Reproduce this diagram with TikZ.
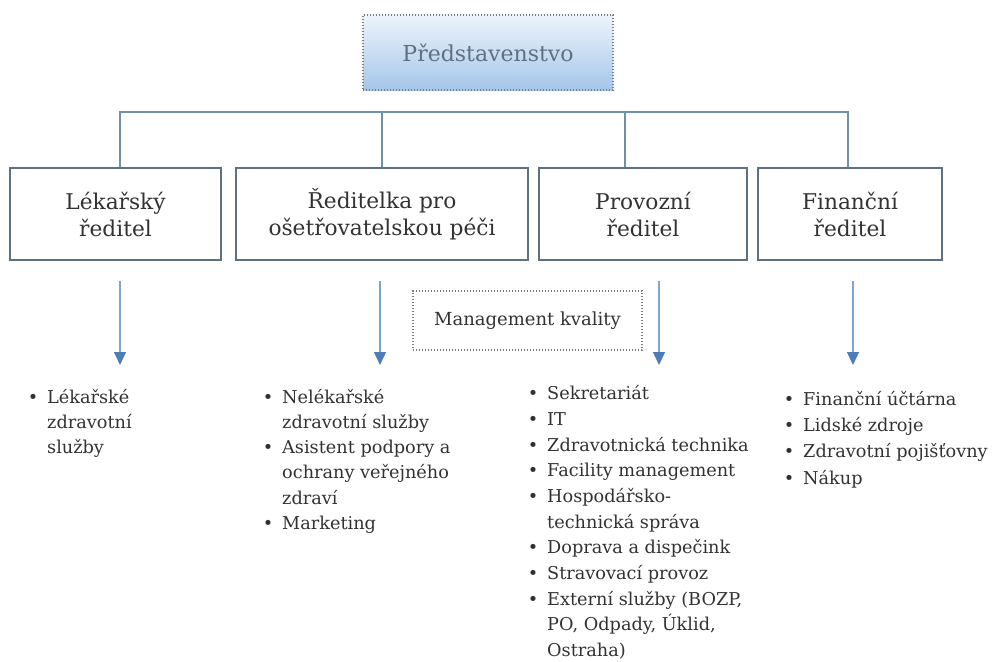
\documentclass[tikz,border=0pt]{standalone}
\usepackage{fontspec}
\setmainfont{DejaVu Serif}
\usepackage{xcolor}
\usetikzlibrary{positioning,arrows.meta}

\definecolor{boxline}{RGB}{95,112,128}
\definecolor{busblue}{RGB}{110,145,170}
\definecolor{arrline}{RGB}{125,165,205}
\definecolor{arrhead}{RGB}{75,125,185}
\definecolor{txt}{RGB}{50,50,50}
\definecolor{toptxt}{RGB}{95,112,130}
\definecolor{topfill}{RGB}{165,198,234}
\definecolor{dotline}{RGB}{120,125,130}

\newcommand\itm{\llap{\textbullet\hspace{9pt}}}

\begin{document}
\begin{tikzpicture}[x=1pt,y=-1pt,
  every node/.style={align=center, text=txt, inner sep=0pt},
  head/.style={draw=dotline, line width=1.3pt, dash pattern=on 1.3pt off 1.7pt, top color=topfill!20, bottom color=topfill, minimum width=250pt, minimum height=75pt, text=toptxt, font=\fontsize{22}{26}\selectfont},
  mgr/.style={draw=boxline, line width=1.3pt, minimum height=92pt, font=\fontsize{21.7}{27}\selectfont},
  qual/.style={draw=dotline, line width=1.3pt, dash pattern=on 1.3pt off 1.7pt, minimum width=229pt, minimum height=59pt, font=\fontsize{18}{22}\selectfont},
  items/.style={anchor=north west, align=left},
  busline/.style={draw=busblue, line width=1.2pt},
  arr/.style={draw=arrline, line width=1.3pt, -{Triangle[width=12pt,length=13pt,color=arrhead]}}
]
\clip (0,0) rectangle (992,661);

\node[head] (board) at (488,52.5) {Představenstvo};
\node[mgr, minimum width=211pt] (med) at (115.5,214) {Lékařský\\ředitel};
\node[mgr, minimum width=292pt] (nurse) at (382,214) {Ředitelka pro\\ošetřovatelskou péči};
\node[mgr, minimum width=208pt] (ops) at (643,214) {Provozní\\ředitel};
\node[mgr, minimum width=184pt] (fin) at (850,214) {Finanční\\ředitel};
\node[qual] (qm) at (527.5,320.5) {Management kvality};

\coordinate (bus) at (488,112);
\draw[busline] ([xshift=4.5pt]med.north) |- (bus) -| ([xshift=-2pt]fin.north);
\draw[busline] (nurse.north) -- (nurse.north |- bus);
\draw[busline] ([xshift=-18pt]ops.north) -- ([xshift=-18pt]ops.north |- bus);

\coordinate (t1) at (120,365);
\coordinate (t2) at (380,365);
\coordinate (t3) at (659,365);
\coordinate (t4) at (853,365);
\draw[arr] ([yshift=-20pt]med.south -| t1) -- (t1);
\draw[arr] ([yshift=-20pt]nurse.south -| t2) -- (t2);
\draw[arr] ([yshift=-20pt]ops.south -| t3) -- (t3);
\draw[arr] ([yshift=-20pt]fin.south -| t4) -- (t4);

\node[items, font=\fontsize{17.7}{25.2}\selectfont] (l1) at (47,385.4) {\strut\itm Lékařské\\zdravotní\\služby};
\node[items, font=\fontsize{17.7}{25.2}\selectfont] (l2) at (282,385.4) {\strut\itm Nelékařské\\zdravotní služby\\\itm Asistent podpory a\\ochrany veřejného\\zdraví\\\itm Marketing};
\node[items, font=\fontsize{17.7}{25.7}\selectfont] (l3) at (547,381.5) {\strut\itm Sekretariát\\\itm IT\\\itm Zdravotnická technika\\\itm Facility management\\\itm Hospodářsko-\\technická správa\\\itm Doprava a dispečink\\\itm Stravovací provoz\\\itm Externí služby (BOZP,\\PO, Odpady, Úklid,\\Ostraha)};
\node[items, font=\fontsize{17.7}{26.3}\selectfont] (l4) at (803,386.6) {\strut\itm Finanční účtárna\\\itm Lidské zdroje\\\itm Zdravotní pojišťovny\\\itm Nákup};
\end{tikzpicture}
\end{document}
